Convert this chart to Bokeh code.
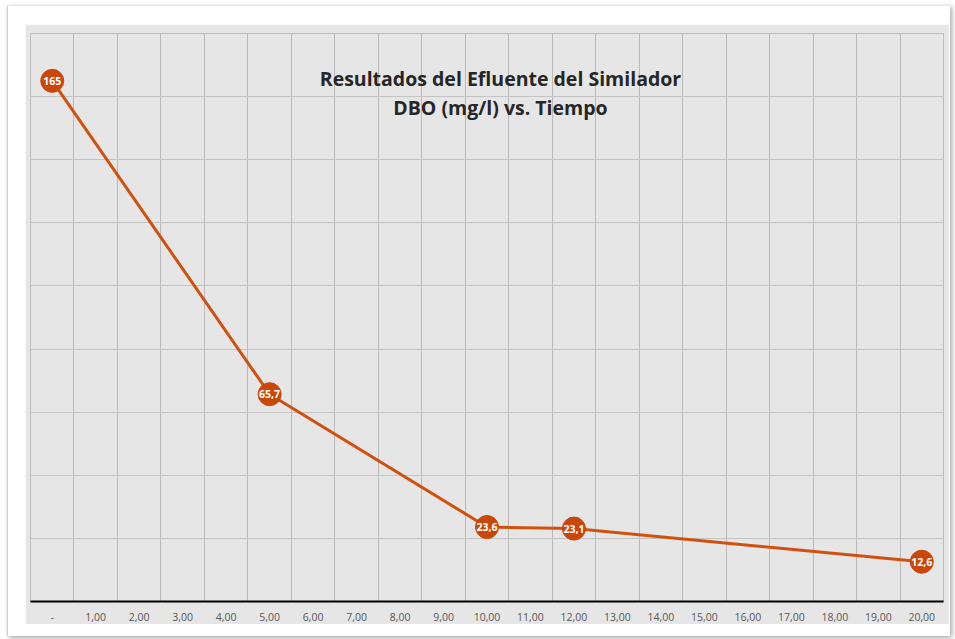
from bokeh.plotting import figure
from bokeh.models import FixedTicker, Label, ColumnDataSource, Column
from bokeh.core.properties import value
from bokeh.embed import file_html
from bokeh.resources import INLINE

# ---- data ----
tiempo = [0, 5, 10, 12, 20]
dbo = [165, 65.7, 23.6, 23.1, 12.6]
dbo_labels = ["165", "65,7", "23,6", "23,1", "12,6"]
x_ticks = list(range(0, 21))
x_tick_labels = ["-", "1,00", "2,00", "3,00", "4,00", "5,00", "6,00", "7,00", "8,00", "9,00",
                 "10,00", "11,00", "12,00", "13,00", "14,00", "15,00", "16,00", "17,00",
                 "18,00", "19,00", "20,00"]
y_grid_values = [0, 20, 40, 60, 80, 100, 120, 140, 160, 180]
title_line1 = "Resultados del Efluente del Similador"
title_line2 = "DBO (mg/l) vs. Tiempo"

GRAY = "#e6e6e6"
LINE = "#d2500e"
DOT = "#c9470a"

p = figure(width=924, height=600, output_backend="svg", toolbar_location=None,
           x_range=(-0.5, 20.5), y_range=(0, 180),
           background_fill_color=GRAY, border_fill_color=GRAY,
           min_border_left=5, min_border_right=6, min_border_top=9, min_border_bottom=23,
           margin=(18, 0, 0, 17))
p.outline_line_color = "#bdbdbd"

p.xaxis.ticker = FixedTicker(ticks=x_ticks)
p.xaxis.major_label_overrides = {t: s for t, s in zip(x_ticks, x_tick_labels)}
p.xaxis.major_tick_line_color = None
p.xaxis.minor_tick_line_color = None
p.xaxis.axis_line_color = "black"
p.xaxis.axis_line_width = 2
p.xaxis.major_label_text_font = "Open Sans"
p.xaxis.major_label_text_font_size = "10.5px"
p.xaxis.major_label_text_color = "#595959"
p.xaxis.major_label_standoff = 5
p.yaxis.visible = False

p.xgrid.ticker = FixedTicker(ticks=[t - 0.5 for t in x_ticks] + [x_ticks[-1] + 0.5])
p.xgrid.grid_line_color = "#bababa"
p.ygrid.ticker = FixedTicker(ticks=y_grid_values)
p.ygrid.grid_line_color = "#c4c4c4"

src = ColumnDataSource(dict(x=tiempo, y=dbo, lab=dbo_labels))
p.line("x", "y", source=src, line_color=LINE, line_width=3)
p.scatter("x", "y", source=src, size=23, fill_color=DOT, line_color=DOT)
p.text("x", "y", text="lab", source=src, text_align="center", text_baseline="middle",
       text_color="white", text_font=value("Open Sans"), text_font_style="bold",
       text_font_size="10.5px")

p.add_layout(Label(x=10.31, y=165.6, text=title_line1, text_align="center",
                   text_baseline="alphabetic", text_font="Open Sans", text_font_style="bold",
                   text_font_size="19.5px", text_color="#262626"))
p.add_layout(Label(x=10.31, y=156.6, text=title_line2, text_align="center",
                   text_baseline="alphabetic", text_font="Open Sans", text_font_style="bold",
                   text_font_size="19.5px", text_color="#262626"))

layout = Column(children=[p], margin=(5, 0, 0, 7),
                styles={"background": "white", "box-shadow": "2px 2px 5px rgba(0,0,0,0.35)",
                        "border-left": "1px solid #cfcfcf", "border-top": "1px solid #e8e8e8",
                        "padding-bottom": "12px", "padding-right": "1px"})

open("out.html", "w").write(file_html(layout, INLINE))
